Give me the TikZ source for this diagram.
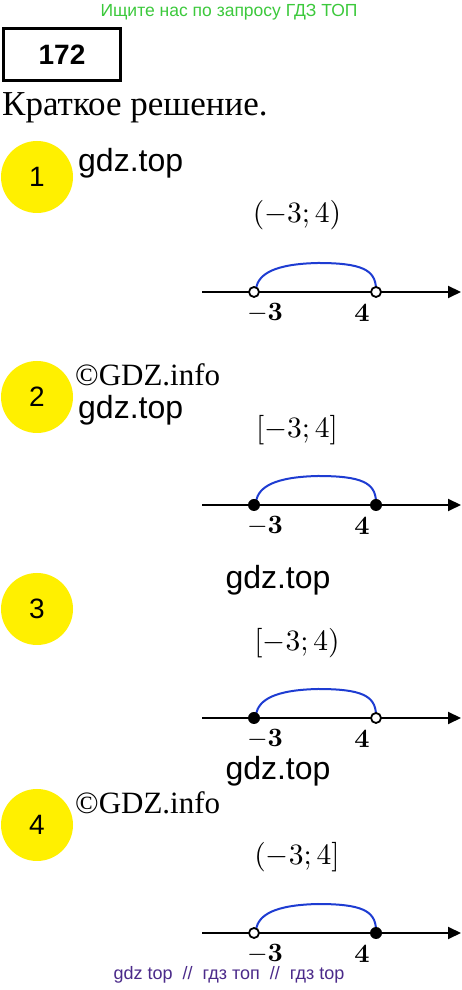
\documentclass[tikz,border=0pt]{standalone}
\usepackage[no-math]{fontspec}
\setmainfont{Liberation Serif}
\setsansfont{Liberation Sans}
\usetikzlibrary{arrows.meta}
\definecolor{hgreen}{HTML}{3CC93C}
\definecolor{hpurple}{HTML}{4B2A8A}
\definecolor{arcblue}{HTML}{1E3CD2}
\definecolor{cyell}{HTML}{FFF000}
\newcommand\fsz[1]{\fontsize{#1}{#1}\selectfont}
\newcommand\ivtext[1]{\scalebox{2.95}{$#1$}}
\newcommand\ticktext[1]{\scalebox{2.65}{$\mathbf{#1}$}}
\begin{document}
\begin{tikzpicture}[x=1pt,y=1pt,
  numaxis/.style={line width=2pt,-{Triangle[length=13pt,width=12pt]}},
  opendot/.style={circle,draw=black,line width=1.8pt,fill=white,inner sep=0pt,minimum size=10pt},
  fulldot/.style={circle,fill=black,inner sep=0pt,minimum size=12pt},
  bluearc/.style={arcblue,line width=2pt},
  ycirc/.style={circle,fill=cyell,inner sep=0pt,minimum size=72pt,font=\sffamily\fsz{28}},
  wm/.style={font=\sffamily\fsz{32},inner sep=0pt},
  gdzinfo/.style={font=\rmfamily\fsz{31},inner sep=0pt},
  ivl/.style={inner sep=0pt},
  tick/.style={inner sep=0pt}]
\useasboundingbox (0,0) rectangle (461,990);
\fill[white] (0,0) rectangle (461,990);
\node[font=\sffamily\fsz{17.5},text=hgreen,inner sep=0pt] (hdr) at (229,978) {Ищите нас по запросу ГДЗ ТОП};
\node[draw=black,line width=3pt,minimum width=117pt,minimum height=52pt,inner sep=0pt,font=\sffamily\bfseries\fsz{28}] (num) at (62,935) {172};
\node[font=\rmfamily\fsz{35},anchor=west,inner sep=0pt] (kr) at (2,882) {Краткое решение.};
% section 1
\node[ycirc] (c1) at (37,813) {1};
\node[wm,anchor=west] (w1) at (78,827) {gdz.top};
\node[ivl] (i1) at (297,775) {\ivtext{(-3;4)}};
\coordinate (s1) at (202,698);
\coordinate (e1) at (461,698);
\draw[numaxis] (s1) -- (e1);
\draw[bluearc] (256,702) .. controls (259,716) and (274,726) .. (318,727) .. controls (362,727) and (375,720) .. (376,702);
\node[opendot] (a1) at (254,698) {};
\node[opendot] (b1) at (376,698) {};
\node[tick] (la1) at (265,677) {\ticktext{-3}};
\node[tick] (lb1) at (362,677) {\ticktext{4}};
% section 2
\node[ycirc] (c2) at (37,593) {2};
\node[gdzinfo,anchor=west] (g2) at (75,615) {©GDZ.info};
\node[wm,anchor=west] (w2) at (78,580) {gdz.top};
\node[ivl] (i2) at (297,560) {\ivtext{[-3;4]}};
\coordinate (s2) at (202,485);
\coordinate (e2) at (461,485);
\draw[numaxis] (s2) -- (e2);
\draw[bluearc] (256,489) .. controls (259,503) and (274,513) .. (318,514) .. controls (362,514) and (375,507) .. (376,489);
\node[fulldot] (a2) at (254,485) {};
\node[fulldot] (b2) at (376,485) {};
\node[tick] (la2) at (265,464) {\ticktext{-3}};
\node[tick] (lb2) at (362,464) {\ticktext{4}};
% section 3
\node[ycirc] (c3) at (37,381) {3};
\node[wm] (w3) at (278,410) {gdz.top};
\node[ivl] (i3) at (297,347) {\ivtext{[-3;4)}};
\coordinate (s3) at (202,272);
\coordinate (e3) at (461,272);
\draw[numaxis] (s3) -- (e3);
\draw[bluearc] (256,276) .. controls (259,290) and (274,300) .. (318,301) .. controls (362,301) and (375,294) .. (376,276);
\node[fulldot] (a3) at (254,272) {};
\node[opendot] (b3) at (376,272) {};
\node[tick] (la3) at (265,251) {\ticktext{-3}};
\node[tick] (lb3) at (362,251) {\ticktext{4}};
% section 4
\node[ycirc] (c4) at (37,165) {4};
\node[wm] (w4) at (278,219) {gdz.top};
\node[gdzinfo,anchor=west] (g4) at (75,187) {©GDZ.info};
\node[ivl] (i4) at (297,133) {\ivtext{(-3;4]}};
\coordinate (s4) at (202,57);
\coordinate (e4) at (461,57);
\draw[numaxis] (s4) -- (e4);
\draw[bluearc] (256,61) .. controls (259,75) and (274,85) .. (318,86) .. controls (362,86) and (375,79) .. (376,61);
\node[opendot] (a4) at (254,57) {};
\node[fulldot] (b4) at (376,57) {};
\node[tick] (la4) at (265,36) {\ticktext{-3}};
\node[tick] (lb4) at (362,36) {\ticktext{4}};
\node[font=\sffamily\fsz{18},text=hpurple,inner sep=0pt] (ftr) at (229,15) {gdz top \ // \ гдз топ \ // \ гдз top};
\end{tikzpicture}
\end{document}
